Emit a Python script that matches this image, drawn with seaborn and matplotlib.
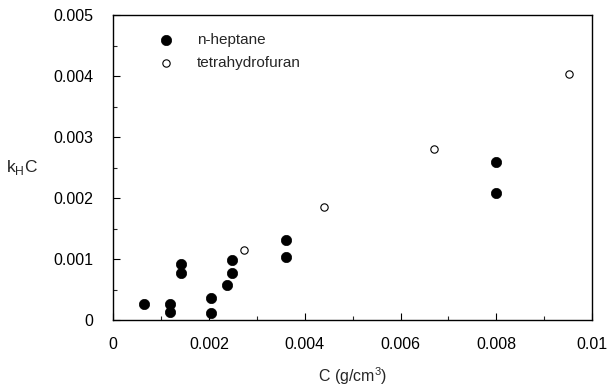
import matplotlib
matplotlib.use("Agg")
import matplotlib.pyplot as plt
import seaborn as sns
import pandas as pd
from matplotlib.ticker import MultipleLocator, FuncFormatter

# Data
hep_c = [0.00065, 0.00118, 0.00118, 0.00142, 0.00142, 0.00205, 0.00205,
         0.00238, 0.00248, 0.00248, 0.00361, 0.00361, 0.00800, 0.00800]
hep_k = [0.00026, 0.00026, 0.000125, 0.00092, 0.00078, 0.00037, 0.00011,
         0.00057, 0.00099, 0.00078, 0.00131, 0.00104, 0.00260, 0.00208]
thf_c = [0.00274, 0.00440, 0.00670, 0.00952]
thf_k = [0.00115, 0.00185, 0.00280, 0.00403]
series_names = ["n-heptane", "tetrahydrofuran"]

df_hep = pd.DataFrame({"C": hep_c, "k": hep_k})
df_thf = pd.DataFrame({"C": thf_c, "k": thf_k})

sns.set_theme(style="ticks")
plt.rcParams['font.family'] = ['Liberation Sans', 'DejaVu Sans']
plt.rcParams['mathtext.fontset'] = 'custom'
plt.rcParams['mathtext.rm'] = 'Liberation Sans'

fig = plt.figure(figsize=(6.08, 3.88), dpi=100)
ax = fig.add_axes([0.186, 0.175, 0.788, 0.786])

sns.scatterplot(data=df_hep, x="C", y="k", ax=ax, marker="o", s=55,
                color="black", edgecolor="black", linewidth=0.5,
                label=series_names[0])
sns.scatterplot(data=df_thf, x="C", y="k", ax=ax, marker="o", s=28,
                facecolor="white", edgecolor="black", linewidth=0.8,
                label=series_names[1])

ax.set_xlim(0, 0.01)
ax.set_ylim(0, 0.005)
ax.xaxis.set_major_locator(MultipleLocator(0.002))
ax.xaxis.set_minor_locator(MultipleLocator(0.001))
ax.yaxis.set_major_locator(MultipleLocator(0.001))
ax.yaxis.set_minor_locator(MultipleLocator(0.0005))
fmt = FuncFormatter(lambda v, p: "%g" % round(v, 6))
ax.xaxis.set_major_formatter(fmt)
ax.yaxis.set_major_formatter(fmt)

for sp in ax.spines.values():
    sp.set_visible(True)
    sp.set_linewidth(1.0)
    sp.set_color("black")

ax.tick_params(which="major", direction="in", length=5, width=0.8,
               labelsize=11.5, colors="black")
ax.tick_params(which="minor", direction="in", length=3, width=0.8)
ax.tick_params(axis="x", pad=12)
ax.tick_params(axis="y", pad=14)

ax.set_xlabel("C (g/cm$^3$)", fontsize=11.5, labelpad=10)
ax.set_ylabel("k$_\\mathregular{H}$C", fontsize=12.5, rotation=0,
              va="center", ha="center")
ax.yaxis.set_label_coords(-0.19, 0.50)

leg = ax.legend(loc="upper left", frameon=False, fontsize=11,
                bbox_to_anchor=(0.05, 0.985), handletextpad=1.0,
                labelspacing=0.55)

fig.savefig("out.png", dpi=100)
